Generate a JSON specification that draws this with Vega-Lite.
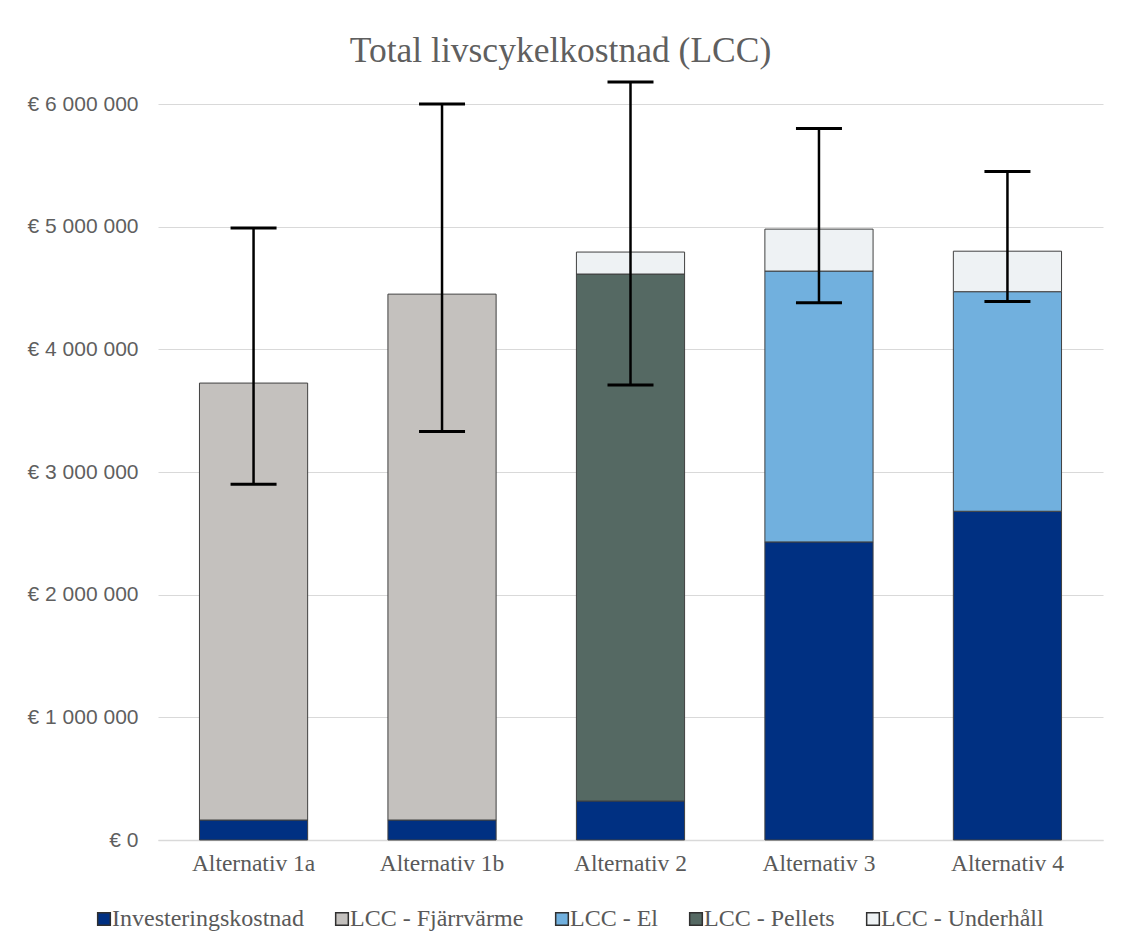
{
  "$schema": "https://vega.github.io/schema/vega-lite/v6.json",
  "autosize": {"type": "none"},
  "width": 945,
  "height": 736,
  "padding": {"left": 158, "top": 104, "right": 23, "bottom": 111},
  "background": "white",
  "title": {
    "text": "Total livscykelkostnad (LCC)",
    "font": "Liberation Serif",
    "fontSize": 35.5,
    "fontWeight": "normal",
    "color": "#5f5f5f",
    "anchor": "middle",
    "offset": 11,
    "dx": -70
  },
  "datasets": {
    "stack": [
      {"alternativ": "Alternativ 1a", "komponent": "Investeringskostnad", "kostnad": 163000},
      {"alternativ": "Alternativ 1a", "komponent": "LCC - Fjärrvärme", "kostnad": 3562000},
      {"alternativ": "Alternativ 1b", "komponent": "Investeringskostnad", "kostnad": 163000},
      {"alternativ": "Alternativ 1b", "komponent": "LCC - Fjärrvärme", "kostnad": 4287000},
      {"alternativ": "Alternativ 2", "komponent": "Investeringskostnad", "kostnad": 318000},
      {"alternativ": "Alternativ 2", "komponent": "LCC - Pellets", "kostnad": 4296000},
      {"alternativ": "Alternativ 2", "komponent": "LCC - Underhåll", "kostnad": 179000},
      {"alternativ": "Alternativ 3", "komponent": "Investeringskostnad", "kostnad": 2430000},
      {"alternativ": "Alternativ 3", "komponent": "LCC - El", "kostnad": 2208000},
      {"alternativ": "Alternativ 3", "komponent": "LCC - Underhåll", "kostnad": 342000},
      {"alternativ": "Alternativ 4", "komponent": "Investeringskostnad", "kostnad": 2680000},
      {"alternativ": "Alternativ 4", "komponent": "LCC - El", "kostnad": 1790000},
      {"alternativ": "Alternativ 4", "komponent": "LCC - Underhåll", "kostnad": 330000}
    ],
    "fel": [
      {"alternativ": "Alternativ 1a", "min": 2900000, "max": 4990000},
      {"alternativ": "Alternativ 1b", "min": 3330000, "max": 6000000},
      {"alternativ": "Alternativ 2", "min": 3710000, "max": 6180000},
      {"alternativ": "Alternativ 3", "min": 4380000, "max": 5800000},
      {"alternativ": "Alternativ 4", "min": 4390000, "max": 5450000}
    ]
  },
  "encoding": {
    "x": {
      "field": "alternativ",
      "type": "nominal",
      "sort": null,
      "scale": {"paddingInner": 0.426, "paddingOuter": 0.22},
      "axis": {
        "title": null,
        "labelAngle": 0,
        "labelFont": "Liberation Serif",
        "labelFontSize": 23.5,
        "labelColor": "#595959",
        "labelPadding": 11,
        "labelLimit": 300,
        "ticks": false,
        "domainColor": "#d9d9d9",
        "domainWidth": 1.5
      }
    }
  },
  "layer": [
    {
      "data": {"name": "stack"},
      "transform": [
        {"calculate": "indexof(['Investeringskostnad','LCC - Fjärrvärme','LCC - El','LCC - Pellets','LCC - Underhåll'], datum.komponent)", "as": "ordning"}
      ],
      "mark": {"type": "bar", "stroke": "#404040", "strokeWidth": 1},
      "encoding": {
        "y": {
          "field": "kostnad",
          "type": "quantitative",
          "stack": "zero",
          "scale": {"domain": [0, 6000000], "nice": false},
          "axis": {
            "title": null,
            "values": [0, 1000000, 2000000, 3000000, 4000000, 5000000, 6000000],
            "labelExpr": "'€ ' + replace(format(datum.value, ','), /,/g, ' ')",
            "labelFont": "Liberation Sans",
            "labelFontSize": 21,
            "labelColor": "#5f5f5f",
            "labelPadding": 20,
            "ticks": false,
            "domain": false,
            "grid": true,
            "gridColor": "#d9d9d9",
            "gridWidth": 1.2
          }
        },
        "order": {"field": "ordning", "type": "quantitative", "sort": "ascending"},
        "color": {
          "field": "komponent",
          "type": "nominal",
          "scale": {
            "domain": ["Investeringskostnad", "LCC - Fjärrvärme", "LCC - El", "LCC - Pellets", "LCC - Underhåll"],
            "range": ["#003082", "#C4C1BE", "#71B0DE", "#556963", "#EEF2F4"]
          },
          "legend": {
            "title": null,
            "orient": "none",
            "legendX": -66,
            "legendY": 803,
            "direction": "horizontal",
            "symbolType": "square",
            "symbolSize": 160,
            "symbolStrokeColor": "#303030",
            "symbolStrokeWidth": 1.5,
            "labelFont": "Liberation Serif",
            "labelFontSize": 24,
            "labelColor": "#595959",
            "labelOffset": -4,
            "labelLimit": 400,
            "columnPadding": 26
          }
        }
      }
    },
    {
      "data": {"name": "fel"},
      "mark": {"type": "rule", "color": "black", "strokeWidth": 2.5},
      "encoding": {
        "y": {"field": "min", "type": "quantitative"},
        "y2": {"field": "max"}
      }
    },
    {
      "data": {"name": "fel"},
      "mark": {"type": "tick", "color": "black", "thickness": 3, "size": 46, "opacity": 1},
      "encoding": {
        "y": {"field": "min", "type": "quantitative"}
      }
    },
    {
      "data": {"name": "fel"},
      "mark": {"type": "tick", "color": "black", "thickness": 3, "size": 46, "opacity": 1},
      "encoding": {
        "y": {"field": "max", "type": "quantitative"}
      }
    }
  ],
  "config": {"view": {"stroke": null}}
}
